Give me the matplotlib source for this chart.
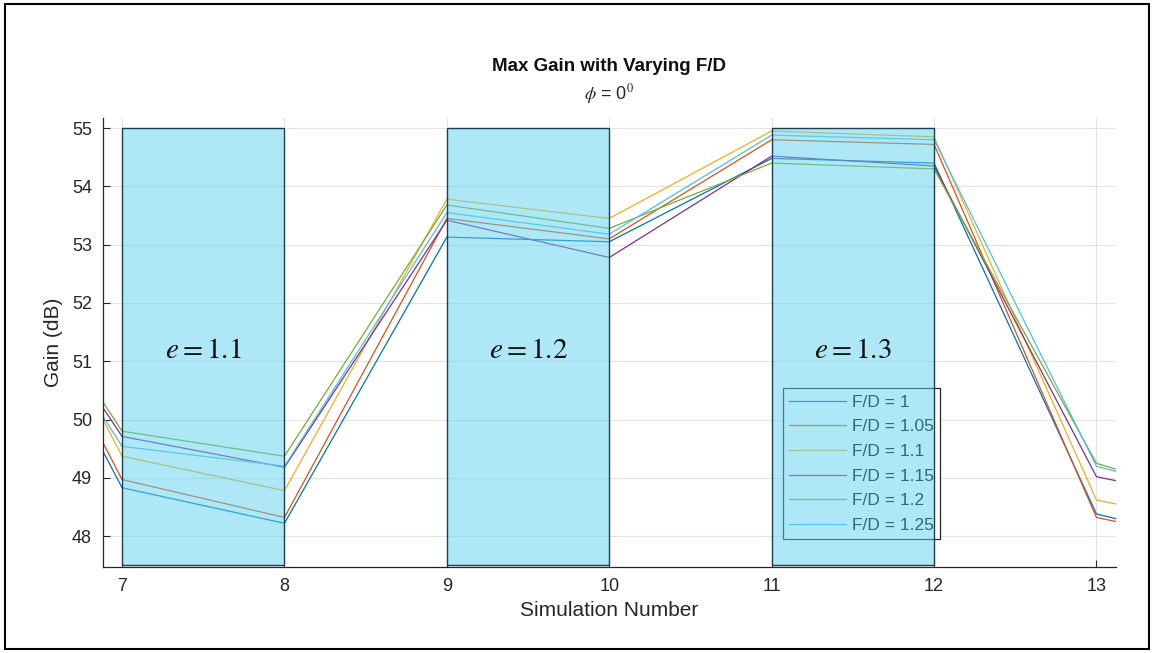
import numpy as np
import matplotlib.pyplot as plt
from matplotlib.patches import Rectangle

# simulation numbers (6 and 14 sit just outside the visible window)
sim = [6, 7, 8, 9, 10, 11, 12, 13, 14]

labels = ["F/D = 1", "F/D = 1.05", "F/D = 1.1", "F/D = 1.15", "F/D = 1.2", "F/D = 1.25"]

gain_100 = [54.13, 48.83, 48.22, 53.13, 53.05, 54.48, 54.40, 48.38, 47.70]
gain_105 = [54.35, 48.97, 48.32, 53.45, 53.10, 54.80, 54.72, 48.32, 47.74]
gain_110 = [54.75, 49.37, 48.78, 53.78, 53.45, 54.95, 54.85, 48.62, 48.04]
gain_115 = [53.90, 49.71, 49.18, 53.42, 52.78, 54.52, 54.35, 49.02, 48.44]
gain_120 = [54.07, 49.80, 49.37, 53.68, 53.28, 54.40, 54.30, 49.25, 48.40]
gain_125 = [53.90, 49.54, 49.20, 53.55, 53.18, 54.88, 54.80, 49.20, 48.45]

ecc_bands = [(7, 8), (9, 10), (11, 12)]
ecc_labels = ["$e = 1.1$", "$e = 1.2$", "$e = 1.3$"]

colors = ["#0072BD", "#D95319", "#EDB120", "#7E2F8E", "#77AC30", "#4DBEEE"]

plt.rcParams["font.family"] = "Liberation Sans"
plt.rcParams["mathtext.fontset"] = "stix"

fig = plt.figure(figsize=(11.54, 6.53), dpi=100)
ax = fig.add_axes([0.0893, 0.1317, 0.8777, 0.6873])

for g, lab, c in zip([gain_100, gain_105, gain_110, gain_115, gain_120, gain_125], labels, colors):
    ax.plot(sim, g, color=c, lw=0.9, label=lab, zorder=2)

leg = ax.legend(loc="lower left", bbox_to_anchor=(0.6713, 0.062), fontsize=12.5,
                fancybox=False, edgecolor="#262626", framealpha=1,
                handlelength=3.3, handletextpad=0.3, labelspacing=0.55,
                borderpad=0.35, borderaxespad=0)
leg.get_frame().set_linewidth(0.9)
leg.set_zorder(3)
for t in leg.get_texts():
    t.set_color("#000000")

# shaded eccentricity bands sit on top of the lines and legend
for (a, b), txt in zip(ecc_bands, ecc_labels):
    ax.add_patch(Rectangle((a, 47.5), b - a, 55 - 47.5, facecolor="#5fd3ee",
                           alpha=0.5, edgecolor="none", zorder=4))
    ax.add_patch(Rectangle((a, 47.5), b - a, 55 - 47.5, facecolor="none",
                           edgecolor="#1c3f52", lw=1.0, zorder=4.5))
    ax.text((a + b) / 2, 51.2, txt, fontsize=21, ha="center", va="center",
            color="#111111", zorder=6)

ax.set_xlim(6.883, 13.12)
ax.set_ylim(47.47, 55.17)
ax.set_xticks(range(7, 14))
ax.set_yticks(range(48, 56))
ax.grid(True, color="#e3e3e3", lw=0.8)
ax.set_axisbelow(True)
ax.tick_params(direction="in", length=5, labelsize=13, colors="#262626", pad=8)
ax.spines["top"].set_visible(False)
ax.spines["right"].set_visible(False)
for s in ["left", "bottom"]:
    ax.spines[s].set_color("#262626")
    ax.spines[s].set_linewidth(0.9)

ax.set_xlabel("Simulation Number", fontsize=15, color="#262626", labelpad=4)
ax.set_ylabel("Gain (dB)", fontsize=15, color="#262626", labelpad=6)

fig.text(0.528, 0.898, "Max Gain with Varying F/D", fontsize=13.5, fontweight="bold",
         ha="center", va="center", color="#111111")
fig.text(0.528, 0.856, r"$\phi$ = 0$^0$", fontsize=13, ha="center", va="center",
         color="#262626")

fig.patches.append(Rectangle((0.004, 0.006), 0.992, 0.988, transform=fig.transFigure,
                             fill=False, edgecolor="black", lw=1.5))

fig.savefig("out.png", dpi=100)
